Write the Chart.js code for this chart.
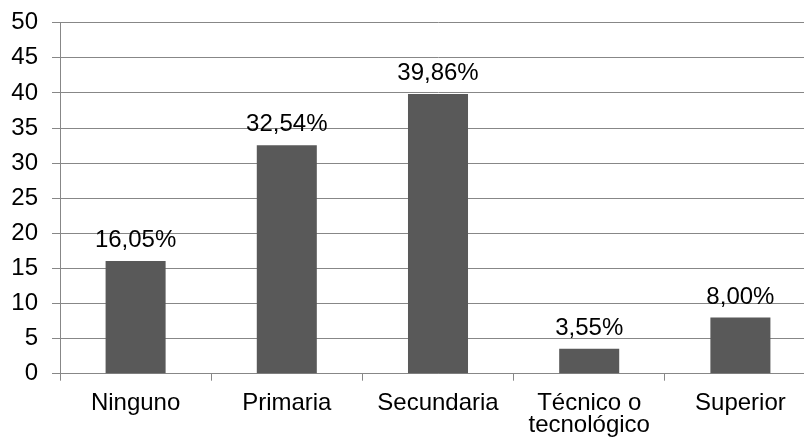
<!DOCTYPE html>
<html>
<head>
<meta charset="utf-8">
<script src="https://cdn.jsdelivr.net/npm/chart.js@4/dist/chart.umd.min.js"></script>
<style>
  html, body { margin: 0; padding: 0; background: #fff; overflow: hidden; }
  #wrap { position: relative; width: 816px; height: 441px; }
</style>
</head>
<body>
<div id="wrap"><canvas id="c"></canvas></div>
<script>
const categories = ['Ninguno', 'Primaria', 'Secundaria', ['Técnico o', 'tecnológico'], 'Superior'];
const values = [16.05, 32.54, 39.86, 3.55, 8.00];
const yTicks = [0, 5, 10, 15, 20, 25, 30, 35, 40, 45, 50];

const FONT = '"Liberation Sans", Arial, sans-serif';
const GRID = '#878787';

const labelPlugin = {
  id: 'valueLabels',
  afterDatasetsDraw(chart) {
    const ctx = chart.ctx;
    const meta = chart.getDatasetMeta(0);
    ctx.save();
    ctx.font = '24px ' + FONT;
    ctx.fillStyle = '#000';
    ctx.textAlign = 'center';
    ctx.textBaseline = 'alphabetic';
    meta.data.forEach((bar, i) => {
      const txt = values[i].toFixed(2).replace('.', ',') + '%';
      ctx.fillText(txt, bar.x, bar.y - 14);
    });
    ctx.restore();
  }
};

new Chart(document.getElementById('c'), {
  type: 'bar',
  data: {
    labels: categories,
    datasets: [{
      data: values,
      backgroundColor: '#595959',
      borderWidth: 0,
      categoryPercentage: 1,
      barPercentage: 0.397
    }]
  },
  options: {
    responsive: true,
    maintainAspectRatio: false,
    animation: false,
    layout: { padding: 0 },
    plugins: { legend: { display: false }, tooltip: { enabled: false } },
    scales: {
      x: {
        afterFit(s) { s.height = 67.3; },
        border: { color: GRID, width: 1 },
        grid: { display: true, drawOnChartArea: false, drawTicks: true, tickLength: 7, color: GRID, offset: true },
        ticks: { color: '#000', padding: 12, maxRotation: 0, autoSkip: false,
                 font: { family: FONT, size: 24, lineHeight: 0.9 } }
      },
      y: {
        min: 0, max: 50,
        afterFit(s) { s.width = 60; s.paddingTop = 22.7; s.paddingBottom = 0; },
        afterBuildTicks(s) { s.ticks = yTicks.map(v => ({ value: v })); },
        border: { color: GRID, width: 1 },
        grid: { color: GRID, lineWidth: 1, tickLength: 8, drawTicks: true },
        ticks: { color: '#000', padding: 14, font: { family: FONT, size: 24 } }
      }
    }
  },
  plugins: [labelPlugin]
});
</script>
</body>
</html>
